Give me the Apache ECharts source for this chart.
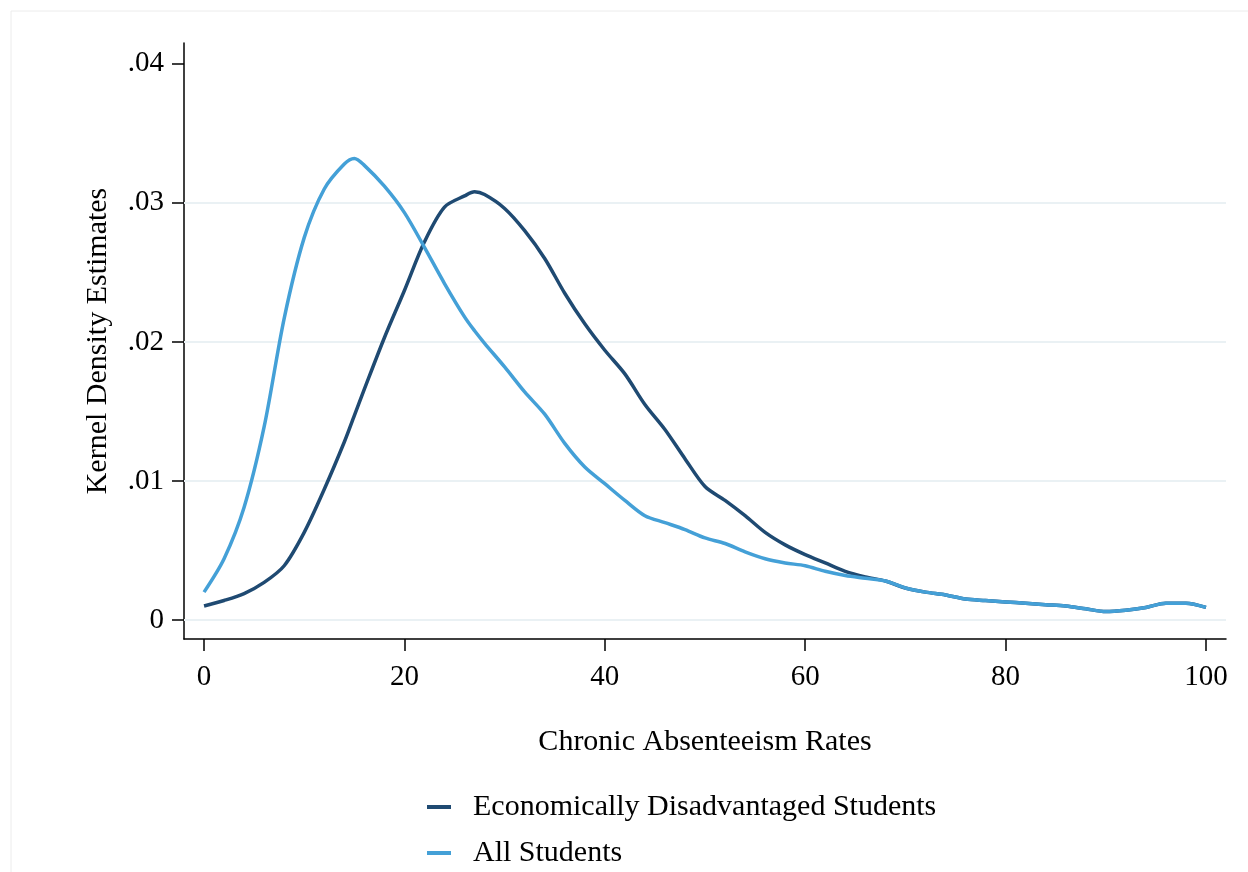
<!DOCTYPE html>
<html>
<head>
<meta charset="utf-8">
<script src="https://cdn.jsdelivr.net/npm/echarts@6.0.0/dist/echarts.min.js"></script>
<style>
html, body { margin: 0; padding: 0; background: #fff; }
#chart { width: 1248px; height: 872px; }
</style>
</head>
<body>
<div id="chart"></div>
<script>
// absenteeism rate (x), extra points near the two peaks
const rates = [0, 2, 4, 6, 8, 10, 12, 14, 15, 16, 18, 20, 22, 24, 26, 27, 28, 30, 32, 34, 36, 38, 40,
  42, 44, 46, 48, 50, 52, 54, 56, 58, 60, 62, 64, 66, 68, 70, 72, 74, 76, 78, 80,
  82, 84, 86, 88, 90, 92, 94, 96, 98, 100]

// kernel density, economically disadvantaged students
const econDis = [0.0010, 0.0014, 0.0019, 0.0027, 0.0039, 0.0063, 0.0094, 0.0128, 0.0147, 0.0166, 0.0203, 0.0237,
  0.0272, 0.0297, 0.0305, 0.0308, 0.0306, 0.0296, 0.0280, 0.0260, 0.0235, 0.0213, 0.0194,
  0.0177, 0.0155, 0.0137, 0.0116, 0.0096, 0.0086, 0.0075, 0.0063, 0.0054, 0.0047,
  0.0041, 0.0035, 0.0031, 0.0028, 0.0023, 0.0020, 0.0018, 0.0015, 0.0014, 0.0013,
  0.0012, 0.0011, 0.0010, 0.0008, 0.0006, 0.0007, 0.0009, 0.0012, 0.0012, 0.0009]

// kernel density, all students
const allStu = [0.0020, 0.0044, 0.0081, 0.0139, 0.0217, 0.0275, 0.0310, 0.0328, 0.0332, 0.0327, 0.0312, 0.0293,
  0.0268, 0.0242, 0.0218, 0.0208, 0.0199, 0.0182, 0.0164, 0.0148, 0.0127, 0.0110, 0.0098,
  0.0086, 0.0075, 0.0070, 0.0065, 0.0059, 0.0055, 0.0049, 0.0044, 0.0041, 0.0039,
  0.0035, 0.0032, 0.0030, 0.0028, 0.0023, 0.0020, 0.0018, 0.0015, 0.0014, 0.0013,
  0.0012, 0.0011, 0.0010, 0.0008, 0.0006, 0.0007, 0.0009, 0.0012, 0.0012, 0.0009]

const xTicks = [0, 20, 40, 60, 80, 100]
const yTicks = [0, 0.01, 0.02, 0.03, 0.04]
const gridLines = [0, 0.01, 0.02, 0.03]

const font = 'Liberation Serif'
const myChart = echarts.init(document.getElementById('chart'))

const pairs = ys => rates.map((x, i) => [x, ys[i]])

// one legend per row, stacked like the Stata legend
const legendRow = (name, top) => ({
  left: 422,
  top: top,
  icon: 'rect',
  itemWidth: 24,
  itemHeight: 4,
  textStyle: { fontFamily: font, fontSize: 30, color: '#000', padding: [0, 0, 0, 17] },
  data: [name]
})

const option = {
  backgroundColor: '#fff',
  animation: false,
  textStyle: { fontFamily: font, color: '#000' },
  graphic: [{
    type: 'rect',
    shape: { x: 11, y: 11, width: 1300, height: 900 },
    style: { fill: 'none', stroke: '#ececec', lineWidth: 1 },
    silent: true
  }],
  grid: { left: 184, right: 22, top: 43, bottom: 233 },
  legend: [
    legendRow('Economically Disadvantaged Students', 787),
    legendRow('All Students', 833)
  ],
  xAxis: {
    type: 'value',
    min: -2,
    max: 102,
    name: 'Chronic Absenteeism Rates',
    nameLocation: 'middle',
    nameGap: 88,
    nameTextStyle: { fontFamily: font, fontSize: 30, color: '#000' },
    axisLine: { onZero: false, lineStyle: { color: '#000', width: 1.5 } },
    axisTick: { show: true, length: 12, lineStyle: { color: '#000', width: 1.5 }, customValues: xTicks },
    axisLabel: { fontFamily: font, fontSize: 29, color: '#000', margin: 24, customValues: xTicks },
    splitLine: { show: false }
  },
  yAxis: {
    type: 'value',
    min: -0.00137,
    max: 0.0415,
    name: 'Kernel Density Estimates',
    nameLocation: 'middle',
    nameGap: 71,
    nameTextStyle: { fontFamily: font, fontSize: 30, color: '#000' },
    axisLine: { show: true, onZero: false, lineStyle: { color: '#000', width: 1.5 } },
    axisTick: { show: true, length: 12, lineStyle: { color: '#000', width: 1.5 }, customValues: yTicks },
    axisLabel: {
      fontFamily: font,
      fontSize: 29,
      color: '#000',
      margin: 20,
      customValues: yTicks,
      formatter: v => v === 0 ? '0' : String(v).replace(/^0/, '')
    },
    splitLine: { show: false }
  },
  series: [{
    name: 'Economically Disadvantaged Students',
    type: 'line',
    smooth: 0.3,
    symbol: 'none',
    color: '#1f4a72',
    lineStyle: { width: 3.5, color: '#1f4a72' },
    z: 3,
    markLine: {
      silent: true,
      symbol: 'none',
      label: { show: false },
      lineStyle: { color: '#eaf1f4', width: 2, type: 'solid' },
      z: 1,
      data: gridLines.map(v => ({ yAxis: v }))
    },
    data: pairs(econDis)
  }, {
    name: 'All Students',
    type: 'line',
    smooth: 0.3,
    symbol: 'none',
    color: '#44a0d7',
    lineStyle: { width: 3.5, color: '#44a0d7' },
    z: 4,
    data: pairs(allStu)
  }]
}

myChart.setOption(option)
window.addEventListener('resize', () => {
  myChart.resize()
})
</script>
</body>
</html>
